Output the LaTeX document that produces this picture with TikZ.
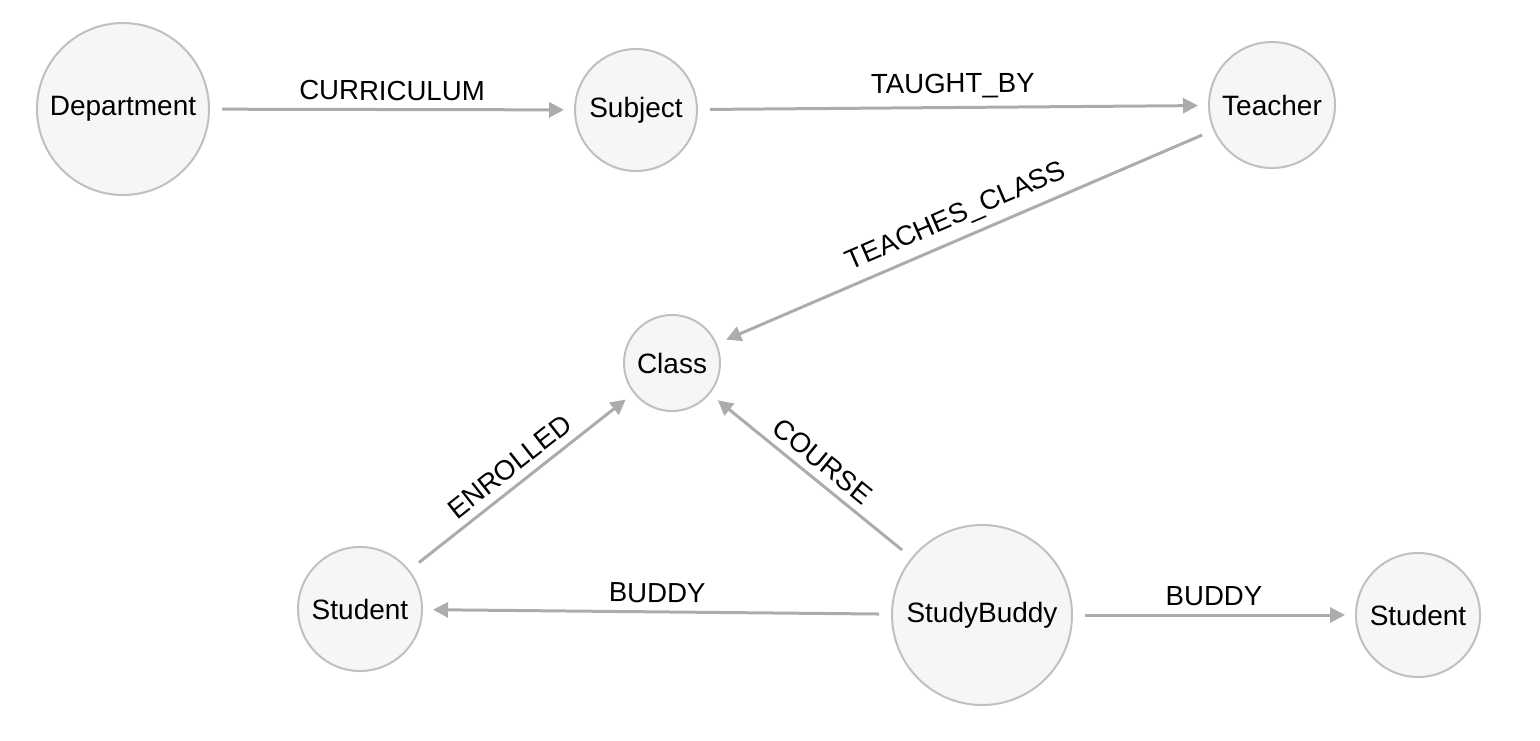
\documentclass[tikz,border=0pt]{standalone}
\usepackage{fontspec}
\setmainfont{Liberation Sans}
\usetikzlibrary{arrows.meta}
\definecolor{nodefill}{RGB}{246,246,248}
\definecolor{nodeline}{RGB}{192,192,192}
\definecolor{relline}{RGB}{172,172,172}
\begin{document}
\begin{tikzpicture}[x=0.5pt,y=-0.5pt,
   entity/.style={draw=nodeline,fill=nodefill,circle,line width=1pt,inner sep=0pt,
      font=\fontsize{14}{16}\selectfont},
   rel/.style={draw=relline,line width=1.5pt,shorten <=6pt,shorten >=5pt,
      -{Triangle[length=7.5pt,width=7.5pt,fill=relline]}},
   lbl/.style={above=0.5pt,sloped,font=\fontsize{13.8}{16}\selectfont,text=black}]
\useasboundingbox (0,0) rectangle (1540,740);
\node[entity,minimum size=86pt] (dept) at (123,109) {Department};
\node[entity,minimum size=61pt] (subj) at (636,110) {Subject};
\node[entity,minimum size=63pt] (teach) at (1272,105) {Teacher};
\node[entity,minimum size=48pt] (cls) at (672,363) {Class};
\node[entity,minimum size=62pt] (stuA) at (360,609) {Student};
\node[entity,minimum size=90pt] (buddy) at (982,615) {StudyBuddy};
\node[entity,minimum size=62pt] (stuB) at (1418,615) {Student};
\draw[rel] (dept) -- node[lbl] {CURRICULUM} (subj);
\draw[rel] (subj) -- node[lbl] {TAUGHT\_BY} (teach);
\draw[rel] (teach) -- node[lbl] {TEACHES\_CLASS} (cls);
\draw[rel] (stuA) -- node[lbl] {ENROLLED} (cls);
\draw[rel] (buddy) -- node[lbl] {COURSE} (cls);
\draw[rel] (buddy) -- node[lbl] {BUDDY} (stuA);
\draw[rel] (buddy) -- node[lbl] {BUDDY} (stuB);
\end{tikzpicture}
\end{document}
